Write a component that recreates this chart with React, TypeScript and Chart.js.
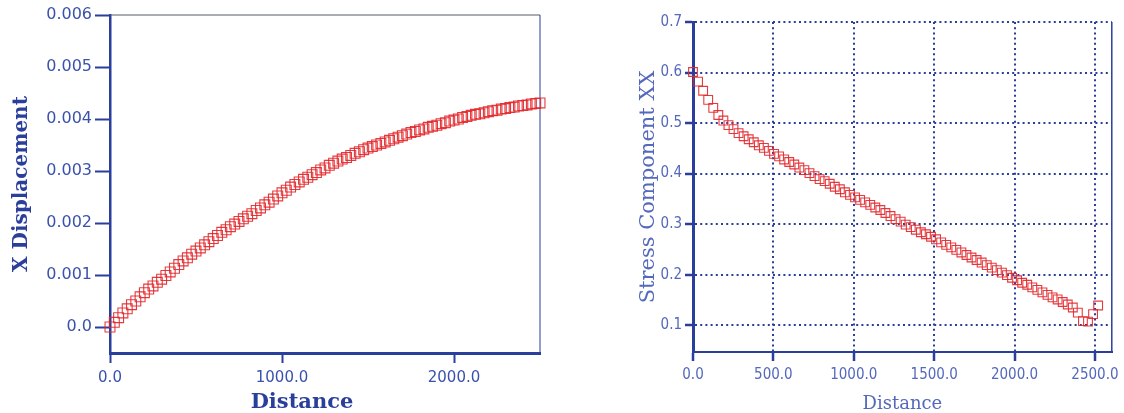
import React, { useEffect, useRef } from "react";
import { Chart, registerables } from "chart.js";

Chart.register(...registerables);

// ---------- Left panel: X Displacement vs Distance ----------
const DISP_DISTANCE = [
  0, 25, 50, 75, 100, 125, 150, 175, 200, 225, 250, 275, 300, 325, 350, 375, 400, 425, 450, 475,
  500, 525, 550, 575, 600, 625, 650, 675, 700, 725, 750, 775, 800, 825, 850, 875, 900, 925, 950, 975,
  1000, 1025, 1050, 1075, 1100, 1125, 1150, 1175, 1200, 1225, 1250, 1275, 1300, 1325, 1350, 1375,
  1400, 1425, 1450, 1475, 1500, 1525, 1550, 1575, 1600, 1625, 1650, 1675, 1700, 1725, 1750, 1775,
  1800, 1825, 1850, 1875, 1900, 1925, 1950, 1975, 2000, 2025, 2050, 2075, 2100, 2125, 2150, 2175,
  2200, 2225, 2250, 2275, 2300, 2325, 2350, 2375, 2400, 2425, 2450, 2475, 2500,
];
const X_DISPLACEMENT = [
  0, 0.00009, 0.00018, 0.00027, 0.00035,
  0.00043, 0.0005, 0.00058, 0.00066,
  0.00073, 0.00079, 0.00086, 0.00092,
  0.00099, 0.00106, 0.00113, 0.0012,
  0.00127, 0.00133, 0.0014, 0.00146,
  0.00152, 0.00158, 0.00164, 0.0017,
  0.00176, 0.00182, 0.00187, 0.00193,
  0.00198, 0.00203, 0.00208, 0.00213,
  0.00218, 0.00224, 0.00229, 0.00235,
  0.0024, 0.00246, 0.00252, 0.00258,
  0.00263, 0.00269, 0.00274, 0.00279,
  0.00284, 0.00288, 0.00293, 0.00297,
  0.00302, 0.00306, 0.00311, 0.00315,
  0.00319, 0.00323, 0.00326, 0.0033,
  0.00334, 0.00337, 0.00341, 0.00344,
  0.00347, 0.0035, 0.00353, 0.00356,
  0.00359, 0.00362, 0.00365, 0.00368,
  0.00371, 0.00374, 0.00376, 0.00379,
  0.00381, 0.00384, 0.00386, 0.00388,
  0.00391, 0.00393, 0.00396, 0.00398,
  0.004, 0.00403, 0.00405, 0.00407,
  0.00409, 0.0041, 0.00412, 0.00414,
  0.00416, 0.00417, 0.00419, 0.0042,
  0.00422, 0.00423, 0.00425, 0.00426,
  0.00427, 0.00429, 0.0043, 0.00431,
];
const DISP_Y_TICKS = [0, 0.001, 0.002, 0.003, 0.004, 0.005, 0.006];
const DISP_Y_LABELS = ["0.0", "0.001", "0.002", "0.003", "0.004", "0.005", "0.006"];
const DISP_X_TICKS = [0, 1000, 2000];
const DISP_X_LABELS = ["0.0", "1000.0", "2000.0"];

// ---------- Right panel: Stress Component XX vs Distance ----------
const STRESS_DISTANCE = [
  0, 31.5, 63, 94.5, 126, 157.5, 189, 220.5, 252, 283.5,
  315, 346.5, 378, 409.5, 441, 472.5, 504, 535.5, 567, 598.5,
  630, 661.5, 693, 724.5, 756, 787.5, 819, 850.5, 882, 913.5,
  945, 976.5, 1008, 1039.5, 1071, 1102.5, 1134, 1165.5, 1197, 1228.5,
  1260, 1291.5, 1323, 1354.5, 1386, 1417.5, 1449, 1480.5, 1512, 1543.5,
  1575, 1606.5, 1638, 1669.5, 1701, 1732.5, 1764, 1795.5, 1827, 1858.5,
  1890, 1921.5, 1953, 1984.5, 2016, 2047.5, 2079, 2110.5, 2142, 2173.5,
  2205, 2236.5, 2268, 2299.5, 2331, 2362.5, 2394, 2425.5, 2457, 2488.5, 2520,
];
const STRESS_XX = [
  0.601, 0.582, 0.564, 0.546, 0.53, 0.516, 0.505, 0.496, 0.488, 0.48,
  0.474, 0.468, 0.462, 0.456, 0.451, 0.445, 0.439, 0.434, 0.428, 0.423,
  0.418, 0.412, 0.407, 0.401, 0.395, 0.389, 0.385, 0.38, 0.374, 0.369,
  0.363, 0.358, 0.353, 0.348, 0.343, 0.338, 0.333, 0.328, 0.322, 0.316,
  0.31, 0.305, 0.299, 0.294, 0.289, 0.284, 0.28, 0.275, 0.27, 0.264,
  0.259, 0.254, 0.249, 0.244, 0.239, 0.234, 0.229, 0.224, 0.219, 0.214,
  0.209, 0.204, 0.199, 0.194, 0.189, 0.184, 0.18, 0.175, 0.17, 0.165,
  0.16, 0.155, 0.151, 0.146, 0.141, 0.135, 0.125, 0.108, 0.107, 0.122, 0.139,
];
const STRESS_Y_TICKS = [0.1, 0.2, 0.3, 0.4, 0.5, 0.6, 0.7];
const STRESS_Y_LABELS = ["0.1", "0.2", "0.3", "0.4", "0.5", "0.6", "0.7"];
const STRESS_X_TICKS = [0, 500, 1000, 1500, 2000, 2500];
const STRESS_X_LABELS = ["0.0", "500.0", "1000.0", "1500.0", "2000.0", "2500.0"];

const AXIS_BLUE = "#2a3e9c";
const LABEL_BLUE = "#3a52ac";
const LIGHT_BLUE = "#5468bc";
const MARKER_RED = "rgba(226, 38, 42, 0.9)";
const NARROW = "'Liberation Sans Narrow', 'DejaVu Sans Condensed', 'Liberation Sans', sans-serif";

const toPoints = (xs: number[], ys: number[]) => xs.map((x, i) => ({ x, y: ys[i] }));

function framePlugin(topColor: string | null, topWidth: number, rightColor: string, rightWidth: number, extraText?: { text: string; x: number; y: number; font: string; color: string }) {
  return {
    id: "frameLines",
    beforeDatasetsDraw(chart: any) {
      const { ctx, chartArea: a } = chart;
      ctx.save();
      if (topColor) {
        ctx.strokeStyle = topColor;
        ctx.lineWidth = topWidth;
        ctx.beginPath();
        ctx.moveTo(a.left, a.top);
        ctx.lineTo(a.right, a.top);
        ctx.stroke();
      }
      ctx.strokeStyle = rightColor;
      ctx.lineWidth = rightWidth;
      ctx.beginPath();
      ctx.moveTo(a.right, a.top);
      ctx.lineTo(a.right, a.bottom);
      ctx.stroke();
      if (extraText) {
        ctx.font = extraText.font;
        ctx.fillStyle = extraText.color;
        ctx.textAlign = "center";
        ctx.textBaseline = "middle";
        ctx.fillText(extraText.text, extraText.x, extraText.y);
      }
      ctx.restore();
    },
  };
}

function useChart(ref: React.RefObject<HTMLCanvasElement>, makeConfig: () => any) {
  useEffect(() => {
    if (!ref.current) return;
    const chart = new Chart(ref.current, makeConfig());
    return () => chart.destroy();
  }, []);
}

function leftConfig() {
  return {
    type: "scatter",
    data: {
      datasets: [
        {
          data: toPoints(DISP_DISTANCE, X_DISPLACEMENT),
          pointStyle: "rect",
          pointRadius: 7,
          pointBorderWidth: 1.1,
          borderColor: MARKER_RED,
          backgroundColor: "rgba(0,0,0,0)",
          pointBackgroundColor: "rgba(0,0,0,0)",
          showLine: false,
          clip: false,
        },
      ],
    },
    options: {
      animation: false,
      responsive: false,
      layout: { padding: { left: 0, top: 15, right: 20, bottom: 0 } },
      plugins: { legend: { display: false }, tooltip: { enabled: false } },
      scales: {
        x: {
          type: "linear",
          min: 0,
          max: 2500,
          afterBuildTicks: (s: any) => {
            s.ticks = DISP_X_TICKS.map((v) => ({ value: v }));
          },
          afterFit: (s: any) => {
            s.height = 60;
          },
          ticks: {
            callback: (_v: any, i: number) => DISP_X_LABELS[i],
            color: LABEL_BLUE,
            font: { family: "'DejaVu Sans', sans-serif", size: 15 },
            padding: 6,
            maxRotation: 0,
            autoSkip: false,
          },
          grid: { display: true, drawOnChartArea: false, drawTicks: true, tickLength: 10, tickWidth: 2, tickColor: AXIS_BLUE, color: AXIS_BLUE },
          border: { display: true, color: AXIS_BLUE, width: 3 },
          title: { display: false },
        },
        y: {
          type: "linear",
          min: -0.0005,
          max: 0.006,
          afterBuildTicks: (s: any) => {
            s.ticks = DISP_Y_TICKS.map((v) => ({ value: v }));
          },
          afterFit: (s: any) => {
            s.width = 110;
          },
          ticks: {
            callback: (_v: any, i: number) => DISP_Y_LABELS[i],
            color: LABEL_BLUE,
            font: { family: "'DejaVu Sans', sans-serif", size: 16 },
            padding: 3,
            autoSkip: false,
          },
          grid: { display: true, drawOnChartArea: false, drawTicks: true, tickLength: 15, tickWidth: 2, tickColor: AXIS_BLUE, color: AXIS_BLUE },
          border: { display: true, color: AXIS_BLUE, width: 2.5 },
          title: {
            display: true,
            text: "X Displacement",
            color: AXIS_BLUE,
            font: { family: "'DejaVu Serif', serif", size: 20, weight: "bold", lineHeight: 1.2 },
            padding: { top: 10, bottom: 0 },
          },
        },
      },
    },
    plugins: [
      framePlugin("#555a66", 1, AXIS_BLUE, 1, {
        text: "Distance",
        x: 302,
        y: 403,
        font: "bold 21px 'DejaVu Serif', serif",
        color: AXIS_BLUE,
      }),
    ],
  };
}

function rightConfig() {
  const dotted = [2, 3.2];
  return {
    type: "scatter",
    data: {
      datasets: [
        {
          data: toPoints(STRESS_DISTANCE, STRESS_XX),
          pointStyle: "rect",
          pointRadius: 6.2,
          pointBorderWidth: 1.1,
          borderColor: MARKER_RED,
          backgroundColor: "rgba(0,0,0,0)",
          pointBackgroundColor: "rgba(0,0,0,0)",
          showLine: false,
          clip: false,
        },
      ],
    },
    options: {
      animation: false,
      responsive: false,
      layout: { padding: { left: 0, top: 22, right: 12, bottom: 0 } },
      plugins: { legend: { display: false }, tooltip: { enabled: false } },
      scales: {
        x: {
          type: "linear",
          min: 0,
          max: 2605,
          afterBuildTicks: (s: any) => {
            s.ticks = STRESS_X_TICKS.map((v) => ({ value: v }));
          },
          afterFit: (s: any) => {
            s.height = 61;
          },
          ticks: {
            callback: (_v: any, i: number) => STRESS_X_LABELS[i],
            color: LIGHT_BLUE,
            font: { family: NARROW, size: 15 },
            padding: 5,
            maxRotation: 0,
            autoSkip: false,
          },
          grid: {
            display: true,
            drawOnChartArea: true,
            drawTicks: true,
            tickLength: 9,
            tickWidth: 2.5,
            tickColor: AXIS_BLUE,
            color: AXIS_BLUE,
            lineWidth: 2,
            borderDash: dotted,
            tickBorderDash: [],
          },
          border: { display: true, color: AXIS_BLUE, width: 2, dash: dotted },
          title: {
            display: true,
            text: "Distance",
            color: LIGHT_BLUE,
            font: { family: "'DejaVu Serif', serif", size: 18, lineHeight: 1 },
            padding: { top: 0, bottom: 0 },
          },
        },
        y: {
          type: "linear",
          min: 0.047,
          max: 0.7,
          afterBuildTicks: (s: any) => {
            s.ticks = STRESS_Y_TICKS.map((v) => ({ value: v }));
          },
          afterFit: (s: any) => {
            s.width = 113;
          },
          ticks: {
            callback: (_v: any, i: number) => STRESS_Y_LABELS[i],
            color: LIGHT_BLUE,
            font: { family: NARROW, size: 15 },
            padding: 3,
            autoSkip: false,
          },
          grid: {
            display: true,
            drawOnChartArea: true,
            drawTicks: true,
            tickLength: 8,
            tickWidth: 2.5,
            tickColor: AXIS_BLUE,
            color: AXIS_BLUE,
            lineWidth: 2,
            borderDash: dotted,
            tickBorderDash: [],
          },
          border: { display: true, color: AXIS_BLUE, width: 3, dash: dotted },
          title: {
            display: true,
            text: "Stress Component XX",
            color: LIGHT_BLUE,
            font: { family: "'DejaVu Serif', serif", size: 21, lineHeight: 1 },
            padding: { top: 58, bottom: 0 },
          },
        },
      },
    },
    plugins: [framePlugin(null, 0, AXIS_BLUE, 1.5)],
  };
}

export default function App() {
  const leftRef = useRef<HTMLCanvasElement>(null);
  const rightRef = useRef<HTMLCanvasElement>(null);
  useChart(leftRef, leftConfig);
  useChart(rightRef, rightConfig);
  return (
    <div style={{ position: "absolute", left: 0, top: 0, width: 1124, height: 413, background: "#ffffff", overflow: "hidden" }}>
      <canvas ref={leftRef} width={560} height={413} style={{ position: "absolute", left: 0, top: 0, width: 560, height: 413 }} />
      <canvas ref={rightRef} width={544} height={413} style={{ position: "absolute", left: 580, top: 0, width: 544, height: 413 }} />
    </div>
  );
}
